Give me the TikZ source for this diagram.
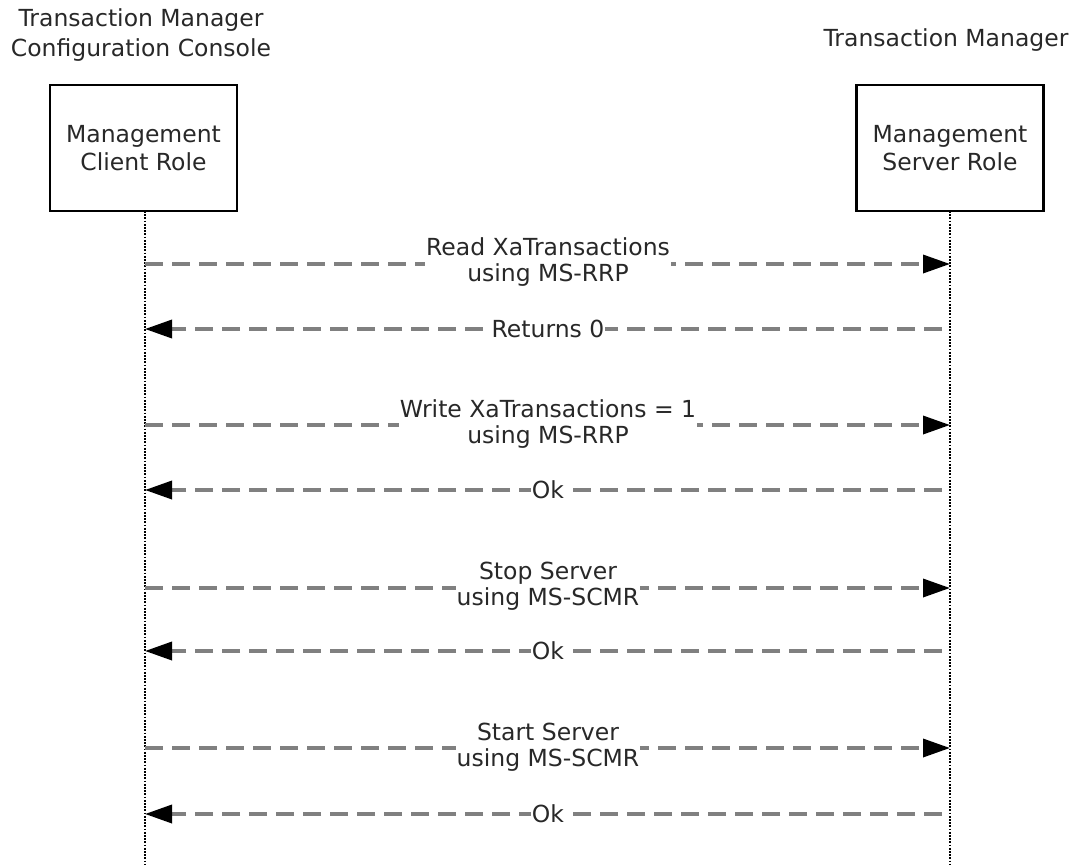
\documentclass[tikz,border=0pt]{standalone}
\usepackage{fontspec}
\setmainfont{DejaVu Sans}
\usetikzlibrary{arrows.meta}
\definecolor{dashgray}{RGB}{128,128,128}
\definecolor{textgray}{RGB}{40,40,40}
\tikzset{
  rolebox/.style={draw=black, line width=2.5pt, minimum width=187pt, minimum height=126pt, align=center, font=\fontsize{23.5}{28}\selectfont, text=textgray},
  title/.style={align=center, font=\fontsize{23.5}{30}\selectfont, text=textgray},
  lifeline/.style={line width=2pt, dash pattern=on 1.8pt off 1.4pt},
  msg/.style={line width=3.5pt, dashgray, dash pattern=on 18pt off 9pt, -{Triangle[length=27pt,width=18pt,color=black]}},
  msglabel/.style={fill=white, align=center, inner sep=1pt, font=\fontsize{23.5}{26}\selectfont, text=textgray}
}
\begin{document}
\begin{tikzpicture}[x=1pt,y=-1pt]
\useasboundingbox (0,0) rectangle (1077,865);
\node[title] (ttl) at (141,35) {Transaction Manager\\Configuration Console};
\node[title] (ttr) at (946,40) {Transaction Manager};
\node[rolebox] (client) at (143.5,148) {Management\\Client Role};
\node[rolebox] (server) at (950,148) {Management\\Server Role};
\coordinate (cend) at (145,865);
\coordinate (send) at (950,865);
\draw[lifeline] (145,211) -- (cend);
\draw[lifeline] (950,211) -- (send);
% message end points
\foreach \n/\y in {1/264,2/329,3/425,4/490,5/588,6/651,7/748,8/814}{
  \coordinate (cl\n) at (145,\y);
  \coordinate (sl\n) at (950,\y);
  \coordinate (sr\n) at (942,\y);
}
\draw[msg] (cl1) -- (sl1);
\node[msglabel] (m1) at (548,262) {Read XaTransactions\\using MS-RRP};
\draw[msg] (sr2) -- (cl2);
\node[msglabel] (m2) at (548,329) {Returns 0};
\draw[msg] (cl3) -- (sl3);
\node[msglabel] (m3) at (548,424) {Write XaTransactions = 1\\using MS-RRP};
\draw[msg] (sr4) -- (cl4);
\node[msglabel] (m4) at (548,490) {Ok};
\draw[msg] (cl5) -- (sl5);
\node[msglabel] (m5) at (548,586) {Stop Server\\using MS-SCMR};
\draw[msg] (sr6) -- (cl6);
\node[msglabel] (m6) at (548,651) {Ok};
\draw[msg] (cl7) -- (sl7);
\node[msglabel] (m7) at (548,747) {Start Server\\using MS-SCMR};
\draw[msg] (sr8) -- (cl8);
\node[msglabel] (m8) at (548,814) {Ok};
\end{tikzpicture}
\end{document}
